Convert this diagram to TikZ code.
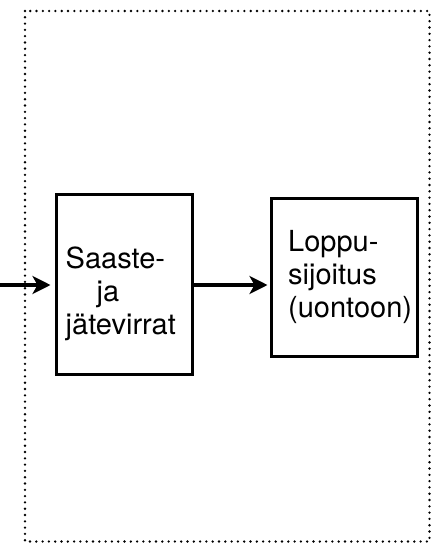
\documentclass[tikz,border=0pt]{standalone}
\usepackage{fontspec}
\setmainfont{TeX Gyre Heros}
\usetikzlibrary{arrows.meta}
\begin{document}
\begin{tikzpicture}[x=1pt,y=-1pt,
  box/.style={draw, line width=3pt, inner sep=0pt},
  txt/.style={align=left, inner sep=0pt, anchor=west, font=\fontsize{29}{33}\selectfont},
  flow/.style={line width=3.5pt, -{Stealth[length=18pt,width=18pt,inset=5pt]}},
  frame/.style={line width=2.6pt, line cap=round, dash pattern=on 0pt off 6.3pt}]
\useasboundingbox (0,0) rectangle (432,543);
\draw[frame] (25,11) rectangle (429.5,541.5);
\node[box, minimum width=136pt, minimum height=180pt] (a) at (124,284) {};
\node[box, minimum width=146pt, minimum height=158pt] (b) at (344,277.5) {};
\node[txt] (at) at (65.5,293.5) {Saaste-\\\hspace*{31pt}ja\\jätevirrat};
\node[txt] (bt) at (288,277) {Loppu-\\sijoitus\\(uontoon)};
\coordinate (in) at (0,285);
\draw[flow, shorten >=4pt] (in) -- (in -| a.west);
\draw[flow, shorten >=2pt] (a.east |- in) -- (in -| b.west);
\end{tikzpicture}
\end{document}
